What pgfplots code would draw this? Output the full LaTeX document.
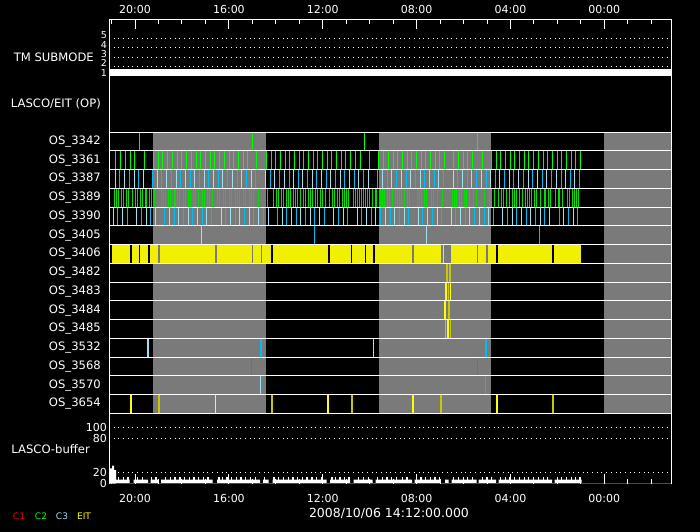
\documentclass[border=0pt]{standalone}
\usepackage{fontspec}
\setmainfont{DejaVu Sans}
\usepackage{pgfplots}
\pgfplotsset{compat=1.18}
\usepackage{pgfplotstable}

\definecolor{bandgray}{RGB}{122,122,122}
\definecolor{ctwo}{RGB}{0,255,0}
\definecolor{ctwomid}{RGB}{0,225,0}
\definecolor{ctwodark}{RGB}{0,190,0}
\definecolor{cthree}{RGB}{160,224,240}
\definecolor{cthreedeep}{RGB}{0,190,240}
\definecolor{eit}{RGB}{255,255,0}
\definecolor{eitdark}{RGB}{200,200,0}
\definecolor{eitband}{RGB}{240,240,0}

\newcommand\labfont{\fontsize{11.6bp}{13bp}\selectfont}
\newcommand\tickfont{\fontsize{11bp}{13bp}\selectfont}
\newcommand\numfont{\fontsize{9.5bp}{11bp}\selectfont}
\newcommand\datefont{\fontsize{12.5bp}{14bp}\selectfont}
\newcommand\legfont{\fontsize{9bp}{11bp}\selectfont}

% event times (x = position along the time axis) and row (r), one table per series
\pgfplotstableread[row sep=\\]{x r\\ 139.3 14\\ 252.3 14\\ 364.3 14\\ 477.3 14\\}\osA % OS_3342

\pgfplotstableread[row sep=\\]{x r\\
115.3 13\\ 120.3 13\\ 125.3 13\\ 130.3 13\\ 134.3 13\\ 144.3 13\\ 153.7 13\\ 158.3 13\\ 162.7 13\\ 167.3 13\\ 172.3 13\\ 177.0 13\\ 181.7 13\\ 186.7 13\\ 191.3 13\\ 196.0 13\\ 200.7 13\\ 205.3 13\\ 210.0 13\\ 214.7 13\\ 219.3 13\\ 224.3 13\\ 229.0 13\\ 233.7 13\\ 238.3 13\\ 243.0 13\\ 247.7 13\\ 256.7 13\\ 266.7 13\\ 271.0 13\\ 275.7 13\\ 280.3 13\\ 285.0 13\\ 289.7 13\\ 294.3 13\\ 299.3 13\\ 303.7 13\\ 308.3 13\\ 313.0 13\\ 317.3 13\\ 322.3 13\\ 327.3 13\\ 331.7 13\\ 336.3 13\\ 341.0 13\\ 345.7 13\\ 350.3 13\\ 355.3 13\\ 360.3 13\\ 369.3 13\\ 378.3 13\\ 383.3 13\\ 388.3 13\\ 393.0 13\\ 397.7 13\\ 402.3 13\\ 407.0 13\\ 411.7 13\\ 416.3 13\\ 421.0 13\\ 425.7 13\\ 430.3 13\\ 435.0 13\\ 439.7 13\\ 444.3 13\\ 453.3 13\\ 458.3 13\\ 463.3 13\\ 467.7 13\\ 472.7 13\\ 482.3 13\\ 491.3 13\\ 496.3 13\\ 500.7 13\\ 505.3 13\\ 510.0 13\\ 514.7 13\\ 519.3 13\\ 524.3 13\\ 528.7 13\\ 533.7 13\\ 538.3 13\\ 543.3 13\\ 547.7 13\\ 552.7 13\\ 557.3 13\\ 561.7 13\\ 566.7 13\\ 571.3 13\\ 575.7 13\\ 580.7 13\\
}\osB % OS_3361

\pgfplotstableread[row sep=\\]{x r\\
115.3 12\\ 124.3 12\\ 134.0 12\\ 143.7 12\\ 157.3 12\\ 166.7 12\\ 176.0 12\\ 185.3 12\\ 194.7 12\\ 204.0 12\\ 213.3 12\\ 222.7 12\\ 232.0 12\\ 241.7 12\\ 251.0 12\\ 265.7 12\\ 274.7 12\\ 284.0 12\\ 293.7 12\\ 302.7 12\\ 312.0 12\\ 321.3 12\\ 330.7 12\\ 340.0 12\\ 349.3 12\\ 358.7 12\\ 368.3 12\\ 382.3 12\\ 391.7 12\\ 401.0 12\\ 410.7 12\\ 420.0 12\\ 429.3 12\\ 438.7 12\\ 453.0 12\\ 462.3 12\\ 471.7 12\\ 481.3 12\\ 490.3 12\\ 499.3 12\\ 509.0 12\\ 518.3 12\\ 528.0 12\\ 537.3 12\\ 546.7 12\\ 556.0 12\\ 565.3 12\\ 574.7 12\\
}\osCpale % OS_3387

\pgfplotstableread[row sep=\\]{x r\\
119.3 12\\ 129.3 12\\ 138.3 12\\ 152.7 12\\ 161.7 12\\ 171.3 12\\ 180.7 12\\ 190.0 12\\ 199.3 12\\ 208.7 12\\ 218.0 12\\ 227.3 12\\ 237.0 12\\ 246.3 12\\ 255.7 12\\ 270.0 12\\ 279.3 12\\ 289.0 12\\ 298.3 12\\ 307.3 12\\ 316.7 12\\ 326.0 12\\ 335.3 12\\ 344.7 12\\ 354.0 12\\ 363.3 12\\ 377.7 12\\ 387.0 12\\ 396.3 12\\ 406.0 12\\ 415.3 12\\ 424.7 12\\ 434.0 12\\ 443.3 12\\ 457.7 12\\ 467.0 12\\ 476.7 12\\ 486.0 12\\ 495.3 12\\ 504.3 12\\ 513.7 12\\ 523.0 12\\ 532.3 12\\ 542.0 12\\ 551.3 12\\ 561.0 12\\ 570.3 12\\ 579.3 12\\
}\osCdeep

\pgfplotstableread[row sep=\\]{x r\\
114.3 11\\ 116.3 11\\ 118.3 11\\ 121.3 11\\ 123.3 11\\ 126.3 11\\ 128.3 11\\ 132.3 11\\ 135.3 11\\ 137.3 11\\ 140.3 11\\ 142.3 11\\ 145.3 11\\ 146.3 11\\ 149.3 11\\ 151.3 11\\ 154.7 11\\ 161.7 11\\ 163.7 11\\ 165.7 11\\ 168.7 11\\ 170.7 11\\ 174.7 11\\ 175.7 11\\ 177.7 11\\ 179.7 11\\ 183.7 11\\ 185.7 11\\ 188.7 11\\ 190.7 11\\ 193.7 11\\ 195.7 11\\ 198.7 11\\ 202.7 11\\ 204.7 11\\ 207.7 11\\ 209.7 11\\ 212.7 11\\ 217.7 11\\ 219.7 11\\ 223.7 11\\ 225.7 11\\ 229.7 11\\ 231.7 11\\ 235.7 11\\ 237.7 11\\ 239.7 11\\ 243.7 11\\ 245.7 11\\ 249.7 11\\ 251.7 11\\ 253.7 11\\ 258.7 11\\ 267.7 11\\ 273.7 11\\ 276.7 11\\ 278.7 11\\ 281.7 11\\ 283.7 11\\ 286.7 11\\ 288.7 11\\ 290.7 11\\ 293.7 11\\ 295.7 11\\ 297.7 11\\ 300 11\\ 303 11\\ 305 11\\ 308 11\\ 310 11\\ 312 11\\ 315 11\\ 317 11\\ 320 11\\ 322 11\\ 325 11\\ 329 11\\ 332 11\\ 334 11\\ 337 11\\ 339 11\\ 342 11\\ 344 11\\ 346 11\\ 348 11\\ 353 11\\ 355 11\\ 357 11\\ 359 11\\ 361 11\\ 363 11\\ 365 11\\ 367 11\\ 369 11\\ 372 11\\ 375 11\\ 376 11\\ 380 11\\ 382 11\\ 384 11\\ 387 11\\ 389 11\\ 392 11\\ 395 11\\ 397 11\\ 399 11\\ 401 11\\ 404 11\\ 407 11\\ 409 11\\ 417 11\\ 419 11\\ 421 11\\ 424 11\\ 426 11\\ 431 11\\ 433 11\\ 437 11\\ 442 11\\ 452 11\\ 454 11\\ 456 11\\ 459 11\\ 461 11\\ 464 11\\ 466 11\\ 469 11\\ 473 11\\ 476 11\\ 484 11\\ 489.3 11\\ 491.3 11\\ 494.3 11\\ 498.3 11\\ 501.3 11\\ 503.3 11\\ 506.3 11\\ 509.3 11\\ 512.3 11\\ 514.3 11\\ 516.3 11\\ 519.3 11\\ 522.3 11\\ 525.3 11\\ 527.3 11\\ 529.3 11\\ 531.3 11\\ 534.3 11\\ 536.3 11\\ 540.3 11\\ 544.3 11\\ 545.3 11\\ 548.3 11\\ 550.3 11\\ 555.3 11\\ 558.3 11\\ 559.3 11\\ 562.3 11\\ 567.3 11\\ 569.3 11\\ 572.3 11\\ 574.3 11\\ 576.3 11\\ 578.3 11\\
}\osD % OS_3389

\pgfplotstableread[row sep=\\]{x r\\
113.3 10\\ 122.3 10\\ 136.3 10\\ 146.3 10\\ 155.3 10\\ 169.3 10\\ 178.3 10\\ 188.3 10\\ 197.3 10\\ 206.3 10\\ 221.3 10\\ 230.3 10\\ 239.3 10\\ 249.3 10\\ 258.3 10\\ 268.3 10\\ 282.3 10\\ 291.3 10\\ 300.3 10\\ 310.3 10\\ 319.3 10\\ 333.3 10\\ 343.3 10\\ 357.3 10\\ 366.3 10\\ 375.3 10\\ 385.3 10\\ 394.3 10\\ 404.3 10\\ 418.3 10\\ 427.3 10\\ 437.3 10\\ 451.3 10\\ 460.3 10\\ 469.3 10\\ 479.3 10\\ 488.3 10\\ 502.3 10\\ 512.3 10\\ 521.3 10\\ 530.3 10\\ 540.3 10\\ 549.3 10\\ 563.3 10\\ 573.3 10\\
}\osEpale % OS_3390

\pgfplotstableread[row sep=\\]{x r\\
117.3 10\\ 127.3 10\\ 141.3 10\\ 150.3 10\\ 164.3 10\\ 174.3 10\\ 183.3 10\\ 192.3 10\\ 202.3 10\\ 211.3 10\\ 225.3 10\\ 235.3 10\\ 244.3 10\\ 253.3 10\\ 263.3 10\\ 277.3 10\\ 286.3 10\\ 296.3 10\\ 305.3 10\\ 314.3 10\\ 324.3 10\\ 338.3 10\\ 347.3 10\\ 361.3 10\\ 371.3 10\\ 380.3 10\\ 390.3 10\\ 399.3 10\\ 408.3 10\\ 422.3 10\\ 432.3 10\\ 441.3 10\\ 455.3 10\\ 465.3 10\\ 474.3 10\\ 484.3 10\\ 493.3 10\\ 507.3 10\\ 516.3 10\\ 526.3 10\\ 535.3 10\\ 544.3 10\\ 559.3 10\\ 568.3 10\\ 577.3 10\\
}\osEdeep

% LASCO buffer level (step profile) and single image spikes
\pgfplotstableread{
x y
108.8 22
110 27
112 32
114 24
116 7
129.5 0
133.5 7
148 0
150.5 7
158 0
161 7
212.5 0
217 7
260 0
263 7
268.5 0
272.5 7
326.5 0
330 7
350 0
353.5 7
372.5 0
375.5 7
412 0
414.5 7
440.5 0
445 7
448.5 0
451.5 7
476.5 0
478.5 7
496 0
498.5 7
552 0
554.5 7
581.7 0
671 0
}\bufbase

\pgfplotstableread{
x y
118.3 12
123.3 12
128.0 11
137.7 12
142.3 12
151.7 11
156.0 12
165.7 12
170.3 11
175.0 12
180.0 12
184.7 11
189.3 12
194.0 12
198.7 11
203.3 12
208.0 12
219.0 12
222.3 12
227.0 11
231.7 12
236.3 12
241.0 11
245.7 12
250.7 12
255.3 11
264.7 12
274.0 12
278.7 11
283.7 12
288.3 12
293.0 11
297.7 12
302.3 12
307.0 11
312.0 12
316.7 12
321.3 11
332.0 12
335.3 12
340.0 11
344.7 12
349.0 12
358.7 12
363.7 11
368.3 12
377.7 12
382.3 11
387.0 12
391.7 12
396.3 11
402.3 12
407.0 12
421.0 12
425.7 11
430.3 12
435.0 12
439.7 11
453.3 12
458.3 12
463.3 11
467.7 12
472.7 12
482.3 12
487.0 11
491.3 12
500.7 12
505.3 11
510.0 12
514.7 12
519.3 11
524.3 12
528.7 12
533.7 11
538.3 12
543.3 12
547.7 11
557.3 12
561.7 12
566.7 11
571.3 12
575.7 12
580.0 11
}\bufspike

\pgfplotsset{
  ev/.style={quiver={u=0,v=1}, mark=none},
  tickmark/.style={white, line width=1bp, mark=none},
  timeaxis/.style={
    scale only axis, width=562bp, xmin=109, xmax=671,
    axis line style={white, line width=1bp},
    xtick={135,228.9,322.7,416.6,510.4,604.3},
    xticklabels={20:00,16:00,12:00,08:00,04:00,00:00},
    major tick length=0pt, minor tick length=0pt,
    /pgf/number format/assume math mode=true,
  },
  dotgrid/.style={white, line width=1bp, dash pattern=on 1bp off 3.69bp},
}

\begin{document}
\begin{tikzpicture}
\useasboundingbox (0,0) rectangle (700bp,532bp);
\fill[black] (0,0) rectangle (700bp,532bp);

% ---- TM submode ----
\begin{axis}[timeaxis,
  at={(109bp,456bp)}, anchor=south west, height=56.5bp,
  ymin=1, ymax=7,
  xtick pos=right, xticklabel pos=right,
  xticklabel style={font=\tickfont, text=white, inner sep=0pt, anchor=south, yshift=6bp},
  ytick={1,2,3,4,5}, yticklabels={1,2,3,4,5},
  yticklabel style={font=\numfont, text=white, inner sep=0pt, anchor=east, xshift=-2bp, yshift=3.2bp},
  ymajorgrids, major grid style={dotgrid},
]
\addplot[white, line width=14bp] coordinates {(109,1) (671,1)};
% hour marks hanging from the top edge (1 unit = 9.42bp here)
\addplot[tickmark, quiver={u=0,v=-1.01}] coordinates {(135,7) (228.9,7) (322.7,7) (416.6,7) (510.4,7) (604.3,7)};
\addplot[tickmark, quiver={u=0,v=-0.48}] coordinates {(111.5,7) (158.5,7) (181.9,7) (205.4,7) (252.4,7) (275.8,7) (299.3,7) (346.2,7) (369.7,7) (393.1,7) (440.1,7) (463.6,7) (487.0,7) (533.9,7) (557.4,7) (580.8,7) (627.8,7) (651.2,7)};
\end{axis}

% ---- LASCO/EIT observing programs ----
\begin{axis}[timeaxis,
  at={(109bp,118.7bp)}, anchor=south west, height=337.3bp,
  ymin=0, ymax=18,
  axis on top,
  xtick=\empty,
  ytick={0.5,1.5,2.5,3.5,4.5,5.5,6.5,7.5,8.5,9.5,10.5,11.5,12.5,13.5,14.5,16.5},
  yticklabels={OS\_3654,OS\_3570,OS\_3568,OS\_3532,OS\_3485,OS\_3484,OS\_3483,OS\_3482,OS\_3406,OS\_3405,OS\_3390,OS\_3389,OS\_3387,OS\_3361,OS\_3342,LASCO/EIT (OP)},
  minor ytick={0,1,...,15},
  yminorgrids, minor grid style={white, line width=1bp},
  yticklabel style={font=\labfont, text=white, inner sep=0pt, anchor=east, xshift=-8bp},
]
% spacecraft night / roll periods
\addplot[draw=none, fill=bandgray] coordinates {(153,0) (266,0) (266,15) (153,15)};
\addplot[draw=none, fill=bandgray] coordinates {(379,0) (491,0) (491,15) (379,15)};
\addplot[draw=none, fill=bandgray] coordinates {(604,0) (671,0) (671,15) (604,15)};

% OS_3342
\addplot[ev, ctwo, line width=1bp] table[x=x, y=r] {\osA};
% OS_3361
\addplot[ev, ctwo, line width=1bp] table[x=x, y=r] {\osB};
% OS_3387
\addplot[ev, cthree, line width=1bp] table[x=x, y=r] {\osCpale};
\addplot[ev, cthreedeep, line width=1bp] table[x=x, y=r] {\osCdeep};
% OS_3389
\addplot[ev, ctwomid, line width=1bp] table[x=x, y=r] {\osD};
% OS_3390
\addplot[ev, cthree, line width=1bp] table[x=x, y=r] {\osEpale};
\addplot[ev, cthreedeep, line width=1bp] table[x=x, y=r] {\osEdeep};
% OS_3405
\addplot[ev, cthree, line width=1bp] coordinates {(201.3,9) (426.3,9)};
\addplot[ev, cthreedeep, line width=1bp] coordinates {(314.3,9) (539.3,9)};
% OS_3406 (EIT): continuous run with interruptions
\addplot[draw=none, fill=eitband] coordinates {(111.7,8) (580.7,8) (580.7,9) (111.7,9)};
\addplot[ev, black, line width=1.6bp] coordinates {(130.8,8) (139.3,8) (149,8) (329,8) (374,8)};
\addplot[ev, black, line width=2bp] coordinates {(272,8) (497,8) (553,8)};
\addplot[ev, black, line width=1bp] coordinates {(351.5,8) (365.5,8)};
\addplot[ev, bandgray, line width=1.6bp] coordinates {(158.7,8) (216,8) (252.3,8) (261.5,8) (477.3,8) (486.8,8)};
\addplot[ev, bandgray, line width=2bp] coordinates {(412.7,8) (441.5,8)};
\addplot[ev, bandgray, line width=6.5bp] coordinates {(447.5,8)};
% OS_3482
\addplot[ev, eitdark, line width=2bp] coordinates {(447,7)};
\addplot[ev, eitdark, line width=1.5bp] coordinates {(450,7)};
% OS_3483
\addplot[ev, eit, line width=1.7bp] coordinates {(446,6)};
\addplot[ev, eitdark, line width=1bp] coordinates {(448,6)};
\addplot[ev, eit, line width=1bp] coordinates {(450.2,6)};
% OS_3484
\addplot[ev, eit, line width=2.3bp] coordinates {(445,5)};
\addplot[ev, eitdark, line width=2bp] coordinates {(448.7,5)};
% OS_3485
\addplot[ev, eitdark, line width=1bp] coordinates {(445.7,4) (450.3,4)};
\addplot[ev, eit, line width=2bp] coordinates {(448,4)};
% OS_3532
\addplot[ev, cthree, line width=1.7bp] coordinates {(147.8,3)};
\addplot[ev, cthree, line width=1bp] coordinates {(373,3)};
\addplot[ev, cthreedeep, line width=2bp] coordinates {(261,3) (486,3)};
% OS_3568
\addplot[ev, ctwodark, line width=1bp] coordinates {(251,2) (477.3,2)};
% OS_3570
\addplot[ev, cthree, line width=1bp] coordinates {(260,1)};
\addplot[ev, cthreedeep, line width=1bp] coordinates {(485.3,1)};
% OS_3654
\addplot[ev, eit, line width=2bp] coordinates {(131,0) (328.3,0) (413,0) (497,0)};
\addplot[ev, eit, line width=1bp] coordinates {(215.5,0)};
\addplot[ev, eitdark, line width=2bp] coordinates {(159,0) (272.3,0) (352,0) (441,0) (553,0)};
\end{axis}

% ---- LASCO buffer ----
\begin{axis}[timeaxis,
  at={(109bp,47.6bp)}, anchor=south west, height=71.1bp,
  ymin=-1.6, ymax=125,
  axis on top,
  separate axis lines,
  every outer x axis line/.append style={draw=none},
  xtick pos=left, xticklabel pos=left,
  xticklabel style={font=\tickfont, text=white, inner sep=0pt, anchor=north, yshift=-9.8bp},
  ytick={20,80,100}, yticklabels={20,80,100},
  extra y ticks={0}, extra y tick labels={0}, extra y tick style={grid=none},
  yticklabel style={font=\tickfont, text=white, inner sep=0pt, anchor=east, xshift=-2bp},
  ymajorgrids, major grid style={dotgrid},
]
\addplot[const plot, fill=white, draw=none] table[x=x, y=y] {\bufbase} \closedcycle;
\addplot[ycomb, white, line width=1.2bp] table[x=x, y=y] {\bufspike};
\addplot[red, line width=1.7bp] coordinates {(116,0) (671,0)};
% hour marks rising from the bottom edge (1 unit = 0.562bp here)
\addplot[tickmark, quiver={u=0,v=17.5}] coordinates {(135,0) (228.9,0) (322.7,0) (416.6,0) (510.4,0) (604.3,0)};
\addplot[tickmark, quiver={u=0,v=7.5}] coordinates {(111.5,0) (158.5,0) (181.9,0) (205.4,0) (252.4,0) (275.8,0) (299.3,0) (346.2,0) (369.7,0) (393.1,0) (440.1,0) (463.6,0) (487.0,0) (533.9,0) (557.4,0) (580.8,0) (627.8,0) (651.2,0)};
\end{axis}

\node[anchor=east, text=white, font=\labfont, inner sep=0pt] at (94bp,474.5bp) {TM SUBMODE};
\node[anchor=east, text=white, font=\labfont, inner sep=0pt] at (90bp,83bp) {LASCO-buffer};
\node[text=white, font=\datefont, inner sep=0pt] at (389bp,19bp) {2008/10/06 14:12:00.000};
\node[text=red, font=\legfont, inner sep=0pt] at (19bp,15.3bp) {C1};
\node[text=ctwo, font=\legfont, inner sep=0pt] at (41bp,15.3bp) {C2};
\node[text=cthree, font=\legfont, inner sep=0pt] at (62bp,15.3bp) {C3};
\node[text=eit, font=\legfont, inner sep=0pt] at (84bp,15.3bp) {EIT};
\end{tikzpicture}
\end{document}
